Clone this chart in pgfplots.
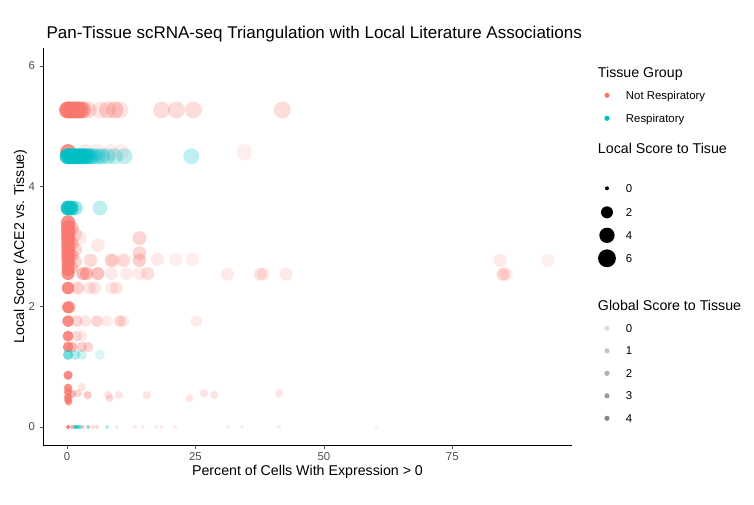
\documentclass[border=0pt]{standalone}
\usepackage{pgfplots}
\pgfplotsset{compat=1.18}
\usepackage{fontspec}
\setmainfont{Liberation Sans}
\definecolor{nresp}{HTML}{F8766D}
\definecolor{resp}{HTML}{00BFC4}
\definecolor{tickgray}{HTML}{4D4D4D}
\newcommand\ttl{\fontsize{14.2}{16}\selectfont}
\newcommand\lent[2]{\rule[-6pt]{0pt}{\dimexpr #1pt+6pt\relax}#2}
\newcommand\ltit[2]{\lent{#1}{\hspace*{-28pt}\ttl #2}}
\pgfplotsset{
 myscat/.style={scatter, only marks, mark=*, forget plot,
   scatter/use mapped color={draw opacity=0, fill=#1},
   visualization depends on={2+2.83*sqrt(\thisrow{y}) \as \rad},
   visualization depends on={\thisrow{a} \as \alp},
   scatter/@pre marker code/.append style={/tikz/mark size=\rad},
   scatter/@pre marker code/.append code={\pgfsetfillopacity{\alp}\pgfsetstrokeopacity{0}}},
}
\begin{document}
\begin{tikzpicture}
\useasboundingbox (0,0) rectangle (754pt,504pt);
\begin{axis}[
  at={(43pt,59pt)}, anchor=south west,
  scale only axis, width=529pt, height=397pt,
  xmin=-4.68, xmax=98.3, ymin=-0.3, ymax=6.3,
  axis lines*=left,
  axis line style={black, line width=0.8pt},
  xtick={0,25,50,75}, ytick={0,2,4,6},
  tick align=outside, major tick length=3.5pt,
  tick style={tickgray, line width=0.6pt},
  tick label style={font=\fontsize{11.4}{13}\selectfont, text=tickgray},
  /pgf/number format/assume math mode=true,
  xticklabel style={yshift=-1pt},
  yticklabel style={xshift=-1pt},
  every axis title shift=0pt,
  title={Pan-Tissue scRNA-seq Triangulation with Local Literature Associations},
  title style={at={(axis description cs:0,1.0230)}, anchor=base west, font=\fontsize{17}{19}\selectfont},
  xlabel={Percent of Cells With Expression > 0},
  ylabel={Local Score (ACE2 vs. Tissue)},
  xlabel style={at={(axis description cs:0.5,-0.0756)}, anchor=base, font=\fontsize{14.2}{16}\selectfont},
  ylabel style={at={(axis description cs:-0.0359,0.5)}, anchor=base, font=\fontsize{14.2}{16}\selectfont},
  legend style={at={(axis description cs:1.0491,0.9521)}, anchor=north west, draw=none, fill=none,
     inner sep=0pt, outer sep=0pt, row sep=0pt, column sep=0pt,
     nodes={inner sep=0pt, outer sep=0pt},
     cells={anchor=base west},
     font=\fontsize{11.4}{13}\selectfont},
  legend image code/.code={\path[draw=none] (0pt,0pt) -- (28pt,0pt); \draw[#1, overlay, yshift=4pt] plot coordinates {(9pt,0pt)};},
]
% Not respiratory
\addplot[myscat=nresp] table {
x y a
0.1 5.27 0.85
0.5 5.27 0.85
1.0 5.27 0.8
1.5 5.27 0.8
2.0 5.27 0.75
2.5 5.27 0.7
3.0 5.27 0.6
4.1 5.27 0.25
6.4 5.27 0.2
7.9 5.27 0.3
9.3 5.27 0.35
10.3 5.27 0.2
18.4 5.27 0.25
21.3 5.27 0.25
24.6 5.27 0.25
41.9 5.27 0.25
0.2 4.57 0.8
3.5 4.57 0.15
6.0 4.57 0.12
8.5 4.57 0.12
10.5 4.57 0.12
34.5 4.57 0.12
0.2 3.40 0.8
0.2 3.32 0.8
0.2 3.24 0.8
0.2 3.16 0.8
0.2 3.08 0.8
0.2 3.00 0.8
0.2 2.92 0.8
0.2 2.85 0.8
0.2 2.78 0.8
0.2 2.70 0.8
0.2 2.62 0.8
0.9 3.30 0.45
0.9 3.05 0.45
0.9 2.85 0.45
0.9 2.65 0.4
1.6 3.20 0.25
1.6 2.95 0.3
1.6 2.75 0.3
2.5 3.14 0.15
6.0 3.02 0.15
14.1 3.14 0.3
14.1 2.89 0.3
4.5 2.77 0.2
4.8 2.77 0.1
8.6 2.77 0.3
9.0 2.77 0.15
10.8 2.77 0.15
11.2 2.77 0.15
14.1 2.77 0.35
17.6 2.79 0.15
21.2 2.79 0.12
24.4 2.79 0.12
84.3 2.77 0.15
93.6 2.77 0.12
0.2 2.55 0.8
3.1 2.55 0.5
3.8 2.55 0.5
6.0 2.55 0.45
8.6 2.55 0.15
11.6 2.55 0.15
14.1 2.55 0.15
15.7 2.55 0.25
31.2 2.54 0.15
37.6 2.54 0.2
38.2 2.54 0.15
42.6 2.54 0.15
84.9 2.54 0.3
85.5 2.54 0.15
0.2 2.31 0.85
2.1 2.31 0.35
4.4 2.31 0.2
5.4 2.31 0.2
8.7 2.31 0.15
9.7 2.31 0.2
0.2 1.99 0.85
0.5 1.99 0.5
0.2 1.76 0.85
1.9 1.76 0.3
3.5 1.76 0.2
5.8 1.76 0.3
7.8 1.76 0.15
10.3 1.76 0.3
11.0 1.76 0.15
25.2 1.76 0.15
0.2 1.51 0.85
1.9 1.51 0.25
2.9 1.51 0.15
0.2 1.33 0.85
1.0 1.33 0.5
2.9 1.33 0.35
4.1 1.33 0.3
0.2 0.86 0.85
0.2 0.65 0.8
0.2 0.58 0.8
0.2 0.50 0.8
0.2 0.45 0.8
0.3 0.42 0.7
1.0 0.55 0.5
2.9 0.66 0.2
2.1 0.56 0.3
4.0 0.53 0.4
8.0 0.53 0.2
8.3 0.48 0.25
10.1 0.53 0.2
15.5 0.53 0.2
23.8 0.48 0.2
26.7 0.56 0.2
28.7 0.53 0.2
41.3 0.56 0.2
0.2 0 0.9
1.0 0 0.6
3.1 0 0.35
4.1 0 0.3
5.0 0 0.25
5.8 0 0.3
9.7 0 0.15
13.3 0 0.15
14.7 0 0.15
17.4 0 0.15
18.4 0 0.15
21.1 0 0.15
31.4 0 0.12
34.1 0 0.12
41.3 0 0.15
60.2 0 0.12
};
% Respiratory
\addplot[myscat=resp] table {
x y a
0.1 4.50 0.8
0.5 4.50 0.8
1.0 4.50 0.8
1.5 4.50 0.8
2.0 4.50 0.75
2.5 4.50 0.7
3.0 4.50 0.7
3.5 4.50 0.6
4.0 4.50 0.55
4.5 4.50 0.45
5.2 4.50 0.4
6.0 4.50 0.3
6.8 4.50 0.35
7.9 4.50 0.3
9.3 4.50 0.25
11.2 4.50 0.25
24.2 4.50 0.25
0.2 3.64 0.9
0.8 3.64 0.8
1.6 3.64 0.4
6.4 3.64 0.25
0.2 1.20 0.55
1.6 1.20 0.3
2.9 1.20 0.2
6.4 1.20 0.15
1.6 0 0.8
2.1 0 0.7
2.6 0 0.5
4.1 0 0.3
7.8 0 0.3
};
\addlegendimage{empty legend}
\addlegendentry{\ltit{10}{Tissue Group}}
\addlegendimage{only marks, mark=*, mark size=2.6pt, mark options={draw opacity=0, fill=nresp}}
\addlegendentry{\lent{20.5}{Not Respiratory}}
\addlegendimage{only marks, mark=*, mark size=2.6pt, mark options={draw opacity=0, fill=resp}}
\addlegendentry{\lent{21.5}{Respiratory}}
\addlegendimage{empty legend}
\addlegendentry{\ltit{29.5}{Local Score to Tisue}}
\addlegendimage{only marks, mark=*, mark size=2pt, mark options={draw opacity=0, fill=black}}
\addlegendentry{\lent{37.5}{0}}
\addlegendimage{only marks, mark=*, mark size=6pt, mark options={draw opacity=0, fill=black}}
\addlegendentry{\lent{22.5}{2}}
\addlegendimage{only marks, mark=*, mark size=7.66pt, mark options={draw opacity=0, fill=black}}
\addlegendentry{\lent{21.5}{4}}
\addlegendimage{only marks, mark=*, mark size=8.93pt, mark options={draw opacity=0, fill=black}}
\addlegendentry{\lent{21.5}{6}}
\addlegendimage{empty legend}
\addlegendentry{\ltit{46.5}{Global Score to Tissue}}
\addlegendimage{only marks, mark=*, mark size=2.6pt, mark options={draw opacity=0, fill=black, fill opacity=0.13}}
\addlegendentry{\lent{20.5}{0}}
\addlegendimage{only marks, mark=*, mark size=2.6pt, mark options={draw opacity=0, fill=black, fill opacity=0.22}}
\addlegendentry{\lent{21}{1}}
\addlegendimage{only marks, mark=*, mark size=2.6pt, mark options={draw opacity=0, fill=black, fill opacity=0.31}}
\addlegendentry{\lent{21}{2}}
\addlegendimage{only marks, mark=*, mark size=2.6pt, mark options={draw opacity=0, fill=black, fill opacity=0.39}}
\addlegendentry{\lent{21}{3}}
\addlegendimage{only marks, mark=*, mark size=2.6pt, mark options={draw opacity=0, fill=black, fill opacity=0.47}}
\addlegendentry{\lent{21}{4}}
\end{axis}
\end{tikzpicture}
\end{document}
